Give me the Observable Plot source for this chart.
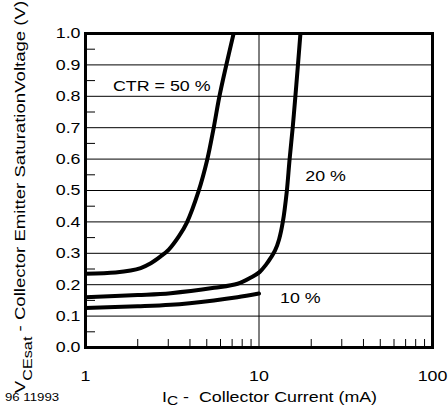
<!DOCTYPE html>
<html><head><meta charset="utf-8">
<script src="https://cdn.jsdelivr.net/npm/d3@7"></script>
<script src="https://cdn.jsdelivr.net/npm/@observablehq/plot@0.6"></script>
<style>
html,body{margin:0;padding:0;background:#fff;}
#chart svg{display:block;}
</style>
</head><body><div id="chart"></div>
<script>
// Collector current (mA) and saturation voltage (V) for each CTR curve
const current50 = [1, 1.49, 1.82, 2.08, 2.38, 2.71, 3.02, 3.45, 3.84, 4.48, 5.03, 5.47, 5.90, 6.45, 7.14];
const vce50     = [0.235, 0.239, 0.245, 0.253, 0.268, 0.290, 0.312, 0.354, 0.398, 0.497, 0.598, 0.697, 0.797, 0.895, 1.0];
const current20 = [1, 2, 3.10, 5.51, 7.53, 8.99, 10.07, 10.98, 11.73, 12.38, 13.05, 13.71, 14.46, 15.0, 15.62, 16.19, 16.74, 17.33];
const vce20     = [0.160, 0.167, 0.173, 0.190, 0.203, 0.223, 0.240, 0.264, 0.287, 0.309, 0.344, 0.399, 0.497, 0.598, 0.697, 0.797, 0.895, 1.0];
const current10 = [1, 2, 3.1, 5.5, 7.5, 10];
const vce10     = [0.126, 0.131, 0.136, 0.15, 0.16, 0.172];

const ctrLabels = ["CTR = 50 %", "20 %", "10 %"];
const xTicks = [1, 10, 100];
const xMinor = [2, 3, 4, 5, 6, 7, 8, 9, 20, 30, 40, 50, 60, 70, 80, 90];
const yTicks = [0, 0.1, 0.2, 0.3, 0.4, 0.5, 0.6, 0.7, 0.8, 0.9, 1.0];
const yGrid = [0.1, 0.2, 0.3, 0.4, 0.5, 0.6, 0.7, 0.8, 0.9];
const yMinor = [0.05, 0.15, 0.25, 0.35, 0.45, 0.55, 0.65, 0.75, 0.85, 0.95];
const xTitle = ["I", "C", " -  Collector Current (mA)"];
const yTitle = ["V", "CEsat", " - Collector Emitter SaturationVoltage (V)"];
const figId = "96 11993";

const toRows = (xs, ys) => xs.map((x, i) => ({x, y: ys[i]}));
const s50 = toRows(current50, vce50);
const s20 = toRows(current20, vce20);
const s10 = toRows(current10, vce10);

const FONT = "'Liberation Sans', Arial, Helvetica, sans-serif";
const STRETCH = 1.15;

const chart = Plot.plot({
  width: 448, height: 408,
  marginLeft: 85, marginRight: 16, marginTop: 33, marginBottom: 61,
  style: {fontFamily: FONT, fontSize: "15.5px", color: "#000", background: "#fff", overflow: "visible"},
  x: {type: "log", domain: [1, 100]},
  y: {domain: [0, 1]},
  marks: [
    Plot.ruleY(yGrid, {stroke: "#000", strokeWidth: 1}),
    Plot.ruleX([10], {stroke: "#000", strokeWidth: 1}),
    Plot.axisY(yMinor, {anchor: "left", tickSize: -10, tickFormat: () => "", label: null, stroke: "#000", strokeWidth: 1}),
    Plot.axisX(xMinor, {anchor: "bottom", tickSize: -8, tickFormat: () => "", label: null, stroke: "#000", strokeWidth: 1}),
    Plot.axisY(yTicks, {anchor: "left", tickSize: 0, tickPadding: 5, tickFormat: d3.format(".1f"), label: null, fill: "#000"}),
    Plot.axisX(xTicks, {anchor: "bottom", tickSize: 0, tickPadding: 22, tickFormat: d => String(d), label: null, fill: "#000"}),
    Plot.line(s50, {x: "x", y: "y", stroke: "#000", strokeWidth: 4, curve: "catmull-rom", clip: true}),
    Plot.line(s20, {x: "x", y: "y", stroke: "#000", strokeWidth: 4, curve: "catmull-rom", clip: true}),
    Plot.line(s10, {x: "x", y: "y", stroke: "#000", strokeWidth: 4, curve: "catmull-rom", clip: true}),
    Plot.text([ctrLabels[0]], {x: 2.75, y: 0.834, fill: "#000", textAnchor: "middle"}),
    Plot.text([ctrLabels[1]], {x: 24.2, y: 0.546, fill: "#000", textAnchor: "middle"}),
    Plot.text([ctrLabels[2]], {x: 17.3, y: 0.156, fill: "#000", textAnchor: "middle"}),
    Plot.frame({stroke: "#000", strokeWidth: 3})
  ]
});

document.getElementById("chart").appendChild(chart);
const svg = d3.select(chart);

// widen glyphs horizontally (reference uses a wide Helvetica)
svg.selectAll("text").each(function () {
  const t = this.getAttribute("transform");
  if (t !== null) this.setAttribute("transform", t + ` scale(${STRETCH},1)`);
});

// x-axis title with subscript
const xt = svg.append("text")
  .attr("transform", `translate(269.5,401.5) scale(${STRETCH},1)`)
  .attr("text-anchor", "middle")
  .attr("font-family", FONT).attr("font-size", 15.5).attr("fill", "#000");
xt.append("tspan").text(xTitle[0]);
xt.append("tspan").attr("font-size", 13.5).attr("dy", 3.5).text(xTitle[1]);
xt.append("tspan").attr("dy", -3.5).text(xTitle[2]);

// y-axis title with subscript
const yt = svg.append("text")
  .attr("transform", `translate(24.5,197) rotate(-90) scale(1.2,1)`)
  .attr("text-anchor", "middle")
  .attr("font-family", FONT).attr("font-size", 15.5).attr("fill", "#000");
yt.append("tspan").text(yTitle[0]);
yt.append("tspan").attr("font-size", 13.5).attr("dy", 7).text(yTitle[1]);
yt.append("tspan").attr("dy", -7).text(yTitle[2]);

// figure id
svg.append("text")
  .attr("transform", `translate(5,400.5) scale(${STRETCH},1)`)
  .attr("text-anchor", "start")
  .attr("font-family", FONT).attr("font-size", 11.5).attr("fill", "#000")
  .text(figId);
</script>
</body></html>
